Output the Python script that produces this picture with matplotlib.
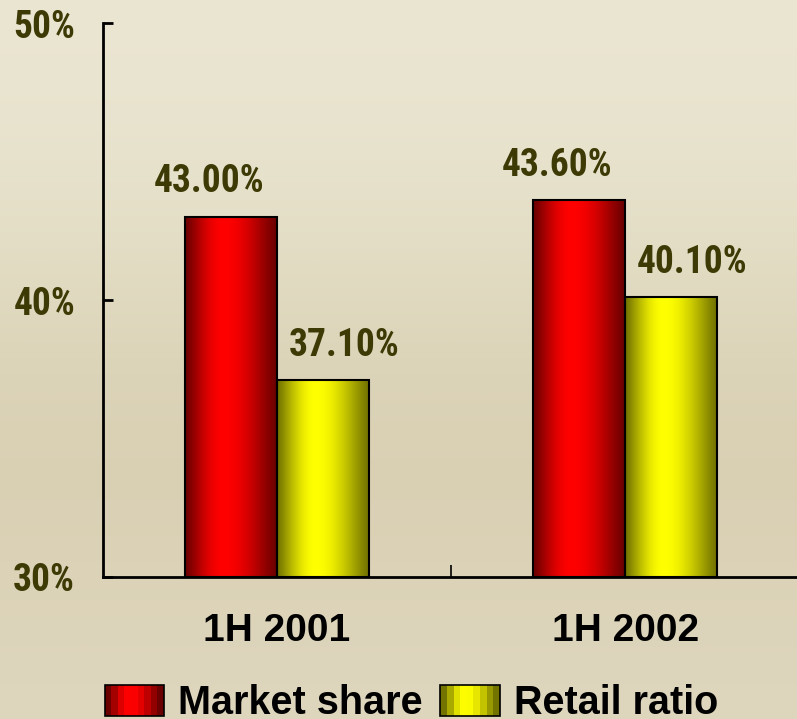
import matplotlib
matplotlib.use('Agg')
import matplotlib.pyplot as plt
import numpy as np
from matplotlib.patches import Rectangle
from matplotlib.legend_handler import HandlerBase

# DATOS
# -----
categorias = ['1H 2001', '1H 2002']
market_share = [43.0, 43.6]
retail_ratio = [37.1, 40.1]
series = ['Market share', 'Retail ratio']
yticks = [30, 40, 50]
ytick_labels = ['30%', '40%', '50%']
base = 30

rojo_oscuro, rojo_claro = np.array([0.42, 0.0, 0.0]), np.array([1.0, 0.0, 0.0])
amarillo_oscuro, amarillo_claro = np.array([0.45, 0.45, 0.0]), np.array([1.0, 1.0, 0.0])
color_texto = '#3d3a05'
fondo = '#e4ddc4'

fuente_narrow = ['Roboto Condensed', 'Liberation Sans', 'DejaVu Sans']
fuente_normal = ['Liberation Sans', 'DejaVu Sans']


def perfil(n):
    '''
    Brillo relativo a lo ancho de una barra cilindrica (0 en bordes, 1 en el centro)
    '''
    s = np.linspace(0, 1, n)
    pico = 0.42
    d = np.where(s < pico, (pico - s) / pico, (s - pico) / (1 - pico))
    return np.cos(d * np.pi / 2) ** 1.2


def gradiente(c_osc, c_cla, n=200):
    p = perfil(n)[:, None]
    return (c_osc + (c_cla - c_osc) * p)[None, :, :]


class HandlerCilindro(HandlerBase):
    '''
    Parche de leyenda con bandas verticales
    '''
    def __init__(self, c_osc, c_cla, nbandas=9):
        super().__init__()
        self.c_osc = c_osc
        self.c_cla = c_cla
        self.nbandas = nbandas

    def create_artists(self, legend, orig_handle, xdescent, ydescent,
                       width, height, fontsize, trans):
        artistas = []
        p = perfil(self.nbandas)
        w = width / self.nbandas
        for i in range(self.nbandas):
            col = self.c_osc + (self.c_cla - self.c_osc) * p[i]
            r = Rectangle((-xdescent + i * w, -ydescent), w, height,
                          facecolor=col, edgecolor='none', transform=trans)
            artistas.append(r)
        borde = Rectangle((-xdescent, -ydescent), width, height, facecolor='none',
                          edgecolor='black', linewidth=1.2, transform=trans)
        artistas.append(borde)
        return artistas


fig = plt.figure(figsize=(7.97, 7.19), dpi=100)
fig.patch.set_facecolor(fondo)

# fondo con un degradado suave
ax_bg = fig.add_axes([0, 0, 1, 1], zorder=-10)
ax_bg.set_axis_off()
tono = np.array([[0.92, 0.90, 0.82], [0.90, 0.88, 0.79], [0.86, 0.83, 0.72],
                 [0.85, 0.81, 0.70], [0.87, 0.84, 0.74]])
ax_bg.imshow(tono[:, None, :], aspect='auto', extent=[0, 1, 0, 1],
             interpolation='bicubic')

ax = fig.add_axes([0.129, 0.1975, 0.874, 0.7705])
ax.set_facecolor('none')

x = np.arange(len(categorias))
ancho = 0.264

alto1 = [v - base for v in market_share]
alto2 = [v - base for v in retail_ratio]
barras1 = ax.bar(x - ancho / 2, alto1, ancho, bottom=base,
                 facecolor='none', edgecolor='black', linewidth=1.5, zorder=3)
barras2 = ax.bar(x + ancho / 2, alto2, ancho, bottom=base,
                 facecolor='none', edgecolor='black', linewidth=1.5, zorder=3)

for barras, c_osc, c_cla in [(barras1, rojo_oscuro, rojo_claro),
                             (barras2, amarillo_oscuro, amarillo_claro)]:
    for b in barras:
        x0, w, y0, h = b.get_x(), b.get_width(), b.get_y(), b.get_height()
        im = ax.imshow(gradiente(c_osc, c_cla), aspect='auto',
                       extent=[x0, x0 + w, y0, y0 + h], zorder=2)
        im.set_clip_path(b)

ax.set_xlim(-0.5, 1.5)
ax.set_ylim(30, 50)

# etiquetas de valor
for barras, valores, dx in [(barras1, market_share, -16), (barras2, retail_ratio, 15)]:
    for b, v in zip(barras, valores):
        ax.annotate(f'{v:.2f}%', (b.get_x() + b.get_width() / 2, v),
                    xytext=(dx, 12), textcoords='offset points',
                    ha='center', va='bottom', fontsize=27, fontweight='bold',
                    color=color_texto, family=fuente_narrow)

ax.set_yticks(yticks)
ax.set_yticklabels(ytick_labels, fontsize=27, fontweight='bold',
                   color=color_texto, family=fuente_narrow)
ax.tick_params(axis='y', direction='in', length=7, width=2, pad=20)

ax.set_xticks([0.5])
ax.set_xticklabels([''])
ax.tick_params(axis='x', which='major', direction='in', length=9, width=1.2)
ax.set_xticks(x, minor=True)
ax.set_xticklabels(categorias, minor=True, fontsize=28, fontweight='bold',
                   family=fuente_normal)
ax.tick_params(axis='x', which='minor', length=0, pad=26)

for lado in ['top', 'right']:
    ax.spines[lado].set_visible(False)
for lado in ['left', 'bottom']:
    ax.spines[lado].set_linewidth(2)

h1 = Rectangle((0, 0), 1, 1)
h2 = Rectangle((0, 0), 1, 1)
fig.legend([h1, h2], series, loc='center', bbox_to_anchor=(0.516, 0.022),
           ncol=2, frameon=False,
           prop={'size': 28.5, 'weight': 'bold', 'family': fuente_normal},
           handlelength=1.5, handleheight=0.8, handletextpad=0.35,
           columnspacing=0.45, borderpad=0, borderaxespad=0,
           handler_map={h1: HandlerCilindro(rojo_oscuro, rojo_claro),
                        h2: HandlerCilindro(amarillo_oscuro, amarillo_claro)})

fig.savefig('out.png', dpi=100, facecolor=fig.get_facecolor())
